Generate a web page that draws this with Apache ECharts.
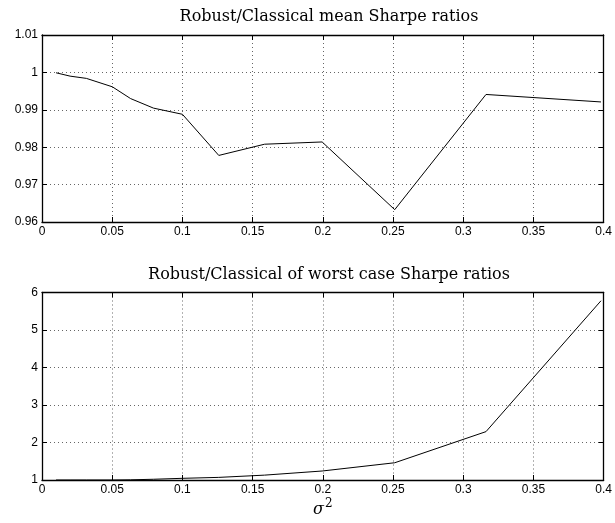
<!DOCTYPE html>
<html>
<head>
<meta charset="utf-8">
<script src="https://cdn.jsdelivr.net/npm/echarts@6/dist/echarts.min.js"></script>
<style>
html,body{margin:0;padding:0;background:#fff;}
#c{width:615px;height:523px;}
</style>
</head>
<body>
<div id="c"></div>
<script>
// sigma^2 values (x axis)
var sigma2 = [0.01, 0.02, 0.0316, 0.0501, 0.0631, 0.0794, 0.1, 0.1259, 0.1585, 0.1995, 0.2512, 0.3162, 0.3981];
// Robust/Classical mean Sharpe ratios
var meanRatio = [0.9999, 0.9990, 0.9984, 0.99615, 0.9930, 0.99045, 0.9888, 0.9778, 0.9808, 0.9814, 0.9633, 0.9941, 0.9921];
// Robust/Classical worst case Sharpe ratios
var worstRatio = [1.0, 1.0, 1.0, 1.0, 1.005, 1.02, 1.045, 1.07, 1.13, 1.24, 1.46, 2.29, 5.78];

var titleTop = 'Robust/Classical mean Sharpe ratios';
var titleBottom = 'Robust/Classical of worst case Sharpe ratios';
var xTicks = {min: 0, max: 0.4, interval: 0.05};
var yTopTicks = {min: 0.96, max: 1.01, interval: 0.01};
var yBotTicks = {min: 1, max: 6, interval: 1};

function pairs(xs, ys){ return xs.map(function(x,i){ return [x, ys[i]]; }); }

var labelFont = {fontFamily: 'Liberation Sans', fontSize: 12, color: '#000'};
var grids = [
  {left: 42, top: 35, width: 564, height: 187},
  {left: 42, top: 292.5, width: 564, height: 187.5}
];

function xAx(gi, pos, showLabel, split){
  return {
    type: 'value', gridIndex: gi, position: pos,
    min: xTicks.min, max: xTicks.max, interval: xTicks.interval,
    axisLine: {show: true, onZero: false, lineStyle: {color: '#000', width: 1.3}},
    axisTick: {show: true, inside: true, length: 5, lineStyle: {color: '#000'}},
    axisLabel: {show: showLabel, margin: 4, formatter: function(v){ return +v.toFixed(2) + ''; }, fontFamily: labelFont.fontFamily, fontSize: labelFont.fontSize, color: '#000'},
    splitLine: {show: split, lineStyle: {color: '#666', type: [1, 3], width: 1}}
  };
}
function yAx(gi, pos, t, showLabel, split){
  return {
    type: 'value', gridIndex: gi, position: pos,
    min: t.min, max: t.max, interval: t.interval,
    axisLine: {show: true, onZero: false, lineStyle: {color: '#000', width: 1.3}},
    axisTick: {show: true, inside: true, length: 5, lineStyle: {color: '#000'}},
    axisLabel: {show: showLabel, margin: 4, formatter: function(v){ return +v.toFixed(2) + ''; }, fontFamily: labelFont.fontFamily, fontSize: labelFont.fontSize, color: '#000'},
    splitLine: {show: split, lineStyle: {color: '#666', type: [1, 3], width: 1}}
  };
}

var chart = echarts.init(document.getElementById('c'), null, {renderer: 'canvas'});
chart.setOption({
  animation: false,
  backgroundColor: '#fff',
  title: [
    {text: titleTop, left: 324, top: 4, textAlign: 'center', textStyle: {fontFamily: 'DejaVu Serif', fontWeight: 'normal', fontSize: 16, color: '#000'}},
    {text: titleBottom, left: 324, top: 262, textAlign: 'center', textStyle: {fontFamily: 'DejaVu Serif', fontWeight: 'normal', fontSize: 16, color: '#000'}}
  ],
  grid: grids,
  xAxis: [
    xAx(0, 'bottom', true, true), xAx(0, 'top', false, false),
    xAx(1, 'bottom', true, true), xAx(1, 'top', false, false)
  ],
  yAxis: [
    yAx(0, 'left', yTopTicks, true, true), yAx(0, 'right', yTopTicks, false, false),
    yAx(1, 'left', yBotTicks, true, true), yAx(1, 'right', yBotTicks, false, false)
  ],
  graphic: [{
    type: 'text', left: 313, top: 498,
    style: {
      text: '{s|σ}{p|2}',
      rich: {
        s: {fontFamily: 'DejaVu Serif', fontStyle: 'italic', fontSize: 16, color: '#000', verticalAlign: 'bottom'},
        p: {fontFamily: 'DejaVu Serif', fontSize: 12, color: '#000', padding: [0, 0, 8, 1]}
      }
    }
  }],
  series: [
    {type: 'line', xAxisIndex: 0, yAxisIndex: 0, data: pairs(sigma2, meanRatio), showSymbol: false, symbol: 'none', lineStyle: {color: '#000', width: 1}},
    {type: 'line', xAxisIndex: 2, yAxisIndex: 2, data: pairs(sigma2, worstRatio), showSymbol: false, symbol: 'none', lineStyle: {color: '#000', width: 1}}
  ]
});
</script>
</body>
</html>
